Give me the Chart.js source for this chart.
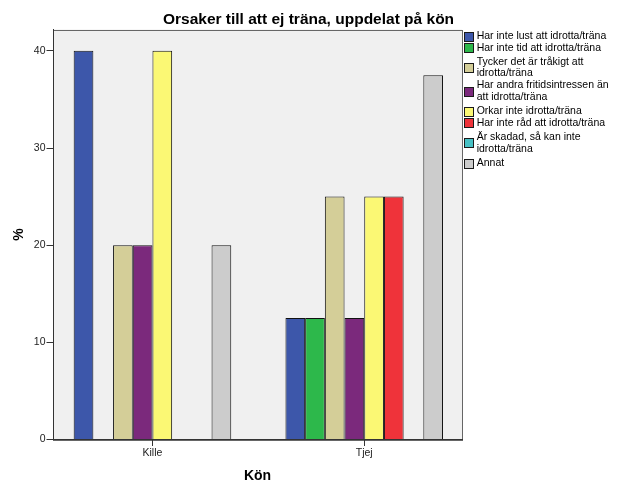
<!DOCTYPE html>
<html lang="sv">
<head>
<meta charset="utf-8">
<title>Orsaker till att ej träna, uppdelat på kön</title>
<script src="https://cdn.jsdelivr.net/npm/chart.js@4/dist/chart.umd.min.js"></script>
<style>
  html, body { margin: 0; padding: 0; background: #ffffff; }
  #wrap { width: 617px; height: 481px; }
</style>
</head>
<body>
<div id="wrap"><canvas id="chart" width="617" height="481"></canvas></div>
<script>
// Categories on the x axis
const categories = ['Kille', 'Tjej'];

// Reasons (legend entries), each split into its display lines
const seriesNames = [
  ['Har inte lust att idrotta/träna'],
  ['Har inte tid att idrotta/träna'],
  ['Tycker det är tråkigt att', 'idrotta/träna'],
  ['Har andra fritidsintressen än', 'att idrotta/träna'],
  ['Orkar inte idrotta/träna'],
  ['Har inte råd att idrotta/träna'],
  ['Är skadad, så kan inte', 'idrotta/träna'],
  ['Annat']
];

// Percentages per reason
const killeValues = [40, 0, 20, 20, 40, 0, 0, 20];
const tjejValues  = [12.5, 12.5, 25, 12.5, 25, 25, 0, 37.5];

const seriesColors = ['#3d57aa', '#2db84b', '#d4ce98', '#7b297c', '#fbf874', '#ef333a', '#47c1c5', '#cccccc'];

// Axis ticks
const yTicks = [0, 10, 20, 30, 40];
const yMax = 42.2;

const FONT = '"Liberation Sans", Arial, Helvetica, sans-serif';
Chart.defaults.font.family = FONT;
Chart.defaults.font.size = 10.5;
Chart.defaults.color = '#222';

const datasets = seriesNames.map((name, s) => ({
  label: name,
  data: categories.map((c, i) => ({ x: i, y: [killeValues, tjejValues][i][s] })),
  backgroundColor: seriesColors[s],
  borderColor: '#111',
  borderWidth: 1,
  categoryPercentage: 0.744,
  barPercentage: 1
}));

// Grey plotting panel with a frame
const panel = {
  id: 'panel',
  beforeDraw(chart) {
    const { ctx, chartArea: a } = chart;
    ctx.save();
    ctx.fillStyle = '#f0f0f0';
    ctx.fillRect(a.left, a.top, a.right - a.left, a.bottom - a.top);
    ctx.strokeStyle = '#666';
    ctx.lineWidth = 1;
    ctx.strokeRect(Math.round(a.left) + 0.5, Math.round(a.top) + 0.5,
                   Math.round(a.right - a.left), Math.round(a.bottom - a.top));
    ctx.restore();
  }
};

// Legend column on the right of the plot, reserved as its own layout box
const sideLegend = {
  id: 'sideLegend',
  beforeInit(chart) {
    const box = {
      position: 'right',
      weight: 1000,
      fullSize: false,
      options: {},
      left: 0, top: 0, right: 0, bottom: 0, width: 0, height: 0,
      update(maxWidth, maxHeight) { this.width = 155; this.height = maxHeight; },
      isHorizontal() { return false; },
      draw() {}
    };
    Chart.layouts.addBox(chart, box);
    chart.$sideBox = box;
  },
  afterDraw(chart) {
    const box = chart.$sideBox;
    const ctx = chart.ctx;
    const lineH = 11.7;
    const x0 = Math.round(box.left) + 2;
    ctx.save();
    ctx.font = '10.5px ' + FONT;
    ctx.textBaseline = 'middle';
    let y = chart.chartArea.top + 6.5;
    let prev = null;
    chart.data.datasets.forEach(ds => {
      const lines = Array.isArray(ds.label) ? ds.label : [ds.label];
      const h = lines.length * lineH;
      if (prev) {
        y += (prev.h + h) / 2 + ((prev.n > 1) !== (lines.length > 1) ? 2.5 : 0);
      }
      const by = Math.round(y - 4.5);
      ctx.fillStyle = ds.backgroundColor;
      ctx.fillRect(x0, by, 10, 10);
      ctx.strokeStyle = '#1a1a1a';
      ctx.lineWidth = 1;
      ctx.strokeRect(x0 + 0.5, by + 0.5, 9, 9);
      ctx.fillStyle = '#000';
      lines.forEach((t, k) => {
        ctx.fillText(t, x0 + 12.7, y - h / 2 + lineH * (k + 0.5));
      });
      prev = { h, n: lines.length };
    });
    ctx.restore();
  }
};

new Chart(document.getElementById('chart'), {
  type: 'bar',
  data: { datasets },
  plugins: [panel, sideLegend],
  options: {
    responsive: false,
    devicePixelRatio: 1,
    animation: false,
    layout: { padding: 0 },
    plugins: {
      legend: { display: false },
      tooltip: { enabled: false },
      title: {
        display: true,
        text: 'Orsaker till att ej träna, uppdelat på kön',
        color: '#000',
        font: { family: FONT, size: 15.5, weight: 'bold', lineHeight: 1.2 },
        padding: { top: 10.4, bottom: 0.5 }
      }
    },
    scales: {
      x: {
        type: 'linear',
        offset: false,
        min: -0.4696,
        max: 1.4616,
        afterBuildTicks(scale) { scale.ticks = categories.map((c, i) => ({ value: i })); },
        afterFit(scale) { scale.height = 41.5; },
        ticks: {
          padding: 1,
          color: '#222',
          font: { size: 10.5 },
          callback: v => categories[v]
        },
        grid: {
          offset: false,
          drawOnChartArea: false,
          drawTicks: true,
          tickLength: 6.5,
          color: '#333'
        },
        border: { display: true, color: '#333', width: 1 },
        title: {
          display: true,
          text: 'Kön',
          color: '#000',
          font: { family: FONT, size: 14, weight: 'bold', lineHeight: 0.75 },
          padding: { top: 0, bottom: 0 }
        }
      },
      y: {
        min: 0,
        max: yMax,
        afterBuildTicks(scale) { scale.ticks = yTicks.map(v => ({ value: v })); },
        afterFit(scale) { scale.width = 53; },
        ticks: {
          padding: 1,
          color: '#222',
          font: { size: 10.5 }
        },
        grid: {
          drawOnChartArea: false,
          drawTicks: true,
          tickLength: 6.5,
          color: '#333'
        },
        border: { display: true, color: '#333', width: 1 },
        title: {
          display: true,
          text: '%',
          color: '#000',
          font: { family: FONT, size: 14, weight: 'bold', lineHeight: 1 },
          padding: { top: 12, bottom: 0 }
        }
      }
    }
  }
});
</script>
</body>
</html>
